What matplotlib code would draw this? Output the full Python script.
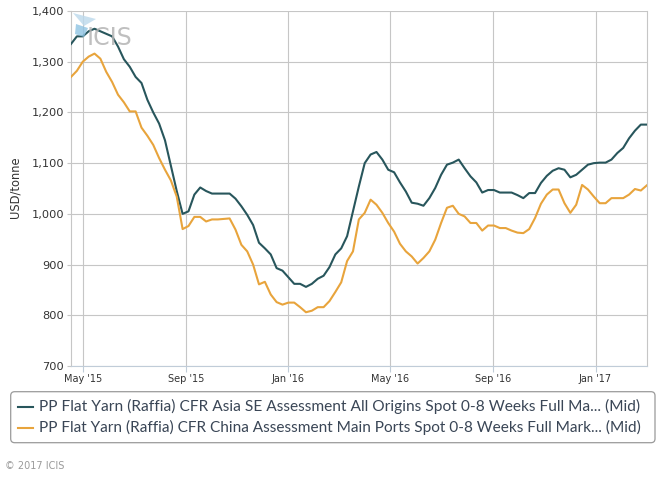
import matplotlib
matplotlib.use("Agg")
import matplotlib.pyplot as plt
import pandas as pd
from matplotlib.patches import FancyBboxPatch, Polygon
from matplotlib.lines import Line2D
from matplotlib.ticker import FuncFormatter

# ---------------- data ----------------
start_date = "2015-04-17"
asia_se = [1335, 1350, 1350, 1360, 1365, 1360, 1355, 1350, 1330, 1305,
           1290, 1270, 1258, 1225, 1200, 1178, 1145, 1095, 1045, 1000,
           1005, 1038, 1052, 1045, 1040, 1040, 1040, 1040, 1030, 1015,
           998, 978, 943, 932, 920, 893, 888, 875, 862, 862,
           856, 862, 872, 878, 895, 920, 932, 956, 1005, 1054,
           1100, 1117, 1122, 1107, 1087, 1082, 1062, 1044, 1022, 1020,
           1016, 1031, 1051, 1077, 1097, 1101, 1107, 1090, 1074, 1062,
           1042, 1047, 1047, 1042, 1042, 1042, 1037, 1031, 1041, 1041,
           1061, 1075, 1085, 1090, 1087, 1072, 1077, 1087, 1097, 1100,
           1101, 1101, 1107, 1120, 1130, 1149, 1164, 1176, 1176]
china = [1270, 1282, 1300, 1310, 1316, 1306, 1280, 1260, 1235, 1220,
         1202, 1202, 1170, 1154, 1136, 1110, 1087, 1066, 1034, 970,
         976, 994, 994, 985, 989, 989, 990, 991, 969, 939,
         926, 900, 861, 866, 841, 826, 821, 825, 825, 816,
         806, 809, 816, 816, 828, 846, 865, 907, 926, 989,
         1002, 1028, 1018, 1002, 982, 965, 941, 926, 916, 902,
         913, 926, 949, 982, 1012, 1016, 1000, 995, 982, 982,
         967, 977, 977, 972, 972, 967, 963, 962, 970, 992,
         1020, 1038, 1048, 1048, 1021, 1002, 1018, 1057, 1048, 1034,
         1021, 1021, 1031, 1031, 1031, 1038, 1049, 1046, 1056]
series_labels = [
    "PP Flat Yarn (Raffia) CFR Asia SE Assessment All Origins Spot 0-8 Weeks Full Ma... (Mid)",
    "PP Flat Yarn (Raffia) CFR China Assessment Main Ports Spot 0-8 Weeks Full Mark... (Mid)",
]
x_tick_dates = ["2015-05-01", "2015-09-01", "2016-01-01", "2016-05-01", "2016-09-01", "2017-01-01"]
x_tick_labels = ["May '15", "Sep '15", "Jan '16", "May '16", "Sep '16", "Jan '17"]
y_ticks = [700, 800, 900, 1000, 1100, 1200, 1300, 1400]
y_title = "USD/tonne"

dates = pd.date_range(start=start_date, periods=len(asia_se), freq="7D")

# ---------------- style ----------------
W, H = 668, 478
C_DARK = "#28565c"
C_ORANGE = "#e8a43c"
GRID = "#c6c6c6"
TXT = "#333333"

def fx(x):
    return x / W

def fy(y):
    return 1 - y / H

fig = plt.figure(figsize=(W / 100, H / 100), dpi=100)
L, R, T, B = 71, 646.7, 11, 366
ax = fig.add_axes([fx(L), fy(B), (R - L) / W, (B - T) / H])

ax.plot(dates, asia_se, color=C_DARK, lw=1.5, solid_joinstyle="round", zorder=3)
ax.plot(dates, china, color=C_ORANGE, lw=1.5, solid_joinstyle="round", zorder=3)

ax.set_xlim(dates[0], dates[-1])
ax.set_ylim(700, 1400)
ax.set_yticks(y_ticks)
ax.yaxis.set_major_formatter(FuncFormatter(lambda v, p: f"{int(v):,}"))
ax.set_xticks(pd.to_datetime(x_tick_dates))
ax.set_xticklabels(x_tick_labels)

ax.grid(True, color=GRID, lw=0.8)
ax.set_axisbelow(True)
for s in ["left", "right"]:
    ax.spines[s].set_color(GRID)
    ax.spines[s].set_linewidth(0.8)
ax.spines["top"].set_visible(False)
ax.spines["bottom"].set_color("#c0ccd8")
ax.spines["bottom"].set_linewidth(0.8)

ax.tick_params(axis="y", length=3, width=0.8, color=GRID, pad=2,
               labelsize=8.2, labelcolor=TXT)
ax.tick_params(axis="x", length=4, width=0.8, color="#c0ccd8", pad=1.5,
               labelsize=7, labelcolor=TXT)
for t in ax.get_xticklabels():
    t.set_fontweight("medium")

fig.text(fx(15), fy(187.5), y_title, rotation=90, ha="center", va="center",
         fontsize=8.3, color=TXT)

# watermark
ax_w = fig.add_axes([0, 0, 1, 1], facecolor="none")
ax_w.set_xlim(0, W)
ax_w.set_ylim(H, 0)
ax_w.axis("off")
ax_w.add_patch(Polygon([(73, 13), (96, 19), (84, 26)], closed=True,
                       facecolor="#bcd9ec", edgecolor="none", alpha=0.8))
ax_w.add_patch(Polygon([(76, 24), (88, 28), (84, 37), (75, 34)], closed=True,
                       facecolor="#8ec3e3", edgecolor="none", alpha=0.8))
ax_w.text(87, 38, "ICIS", fontsize=17, color="#b4b4b4", ha="left", va="center",
          family="DejaVu Sans", alpha=0.85)

# legend box (drawn in pixel space)
ax_w.add_patch(FancyBboxPatch((10.7, 391.7), 644.3, 51, boxstyle="round,pad=0,rounding_size=4",
                              facecolor="white", edgecolor="#9a9a9a", lw=0.9))
colors = [C_DARK, C_ORANGE]
rows_y = [406.7, 427.7]
renderer = fig.canvas.get_renderer()
for lab, c, yy in zip(series_labels, colors, rows_y):
    ax_w.add_line(Line2D([18, 33], [yy, yy], color=c, lw=1.5))
    t = ax_w.text(39, yy, lab, fontsize=10, color="#3a4656", ha="left", va="center",
                  family="Lato")
    bb = t.get_window_extent(renderer=renderer)
    target = 601 if c == C_DARK else 601
    t.set_fontsize(10 * target / bb.width)

ax_w.text(5, 466, "\u00a9 2017 ICIS", fontsize=7, color="#9a9a9a", ha="left", va="center")

fig.savefig("out.png", dpi=100)
